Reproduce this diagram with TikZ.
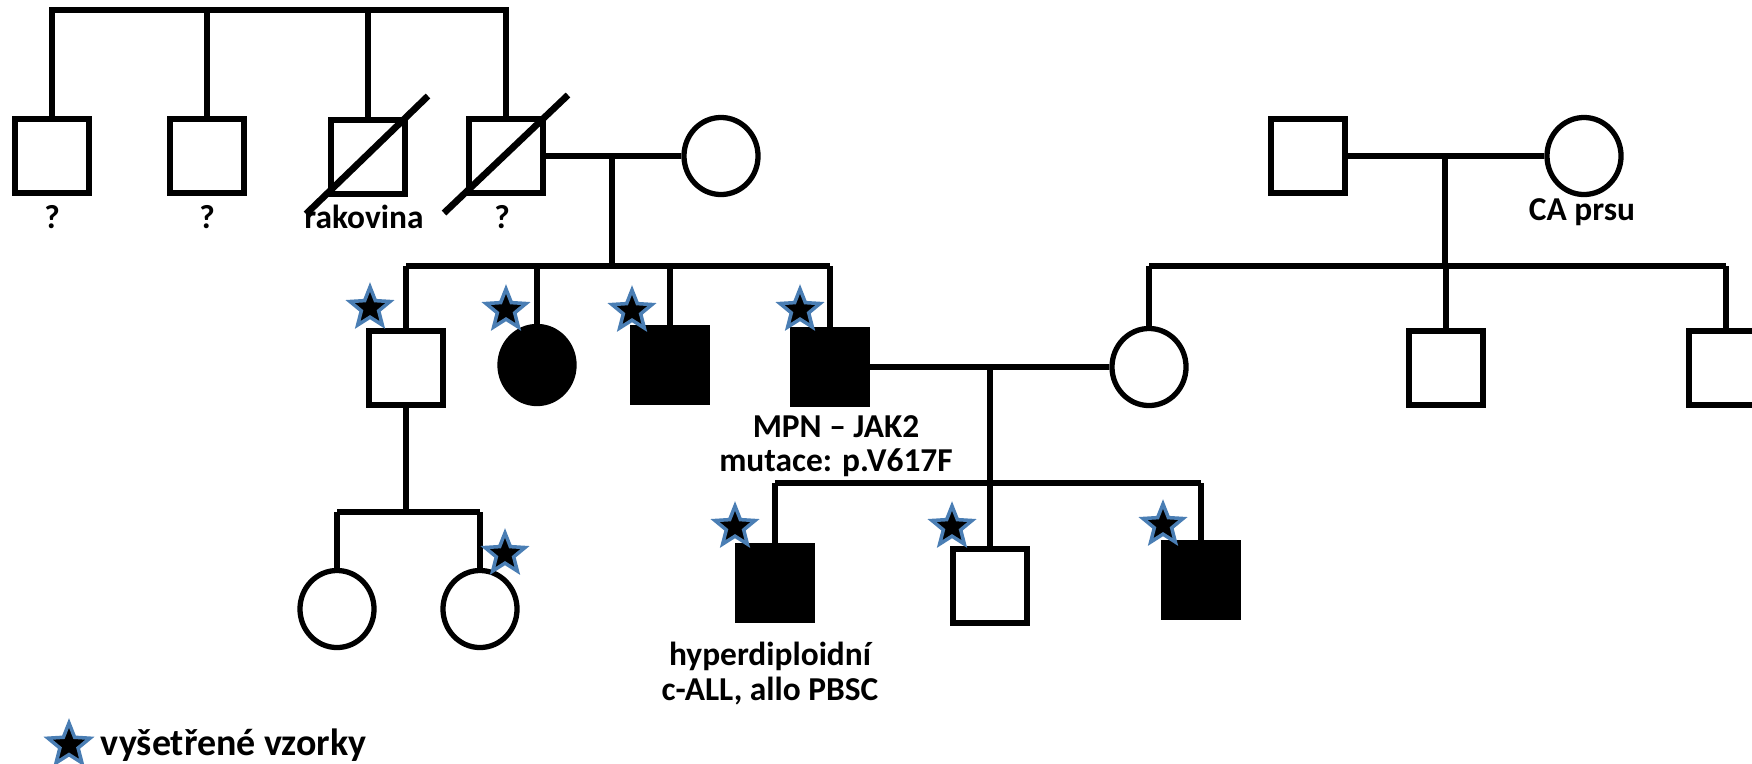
\documentclass[tikz,border=0pt]{standalone}
\usepackage{fontspec}
\setmainfont{Carlito}
\usetikzlibrary{positioning, shapes.geometric, calc}
\definecolor{starblue}{RGB}{74,126,180}

\begin{document}
\begin{tikzpicture}[
    x=0.01cm, y=-0.01cm,
    every node/.style={font=\bfseries\fontsize{9.5}{11.5}\selectfont},
    line/.style  ={line width=1.5pt},
    slash/.style ={line width=1.9pt},
    male/.style  ={draw, line width=1.5pt, minimum size=7.4mm, inner sep=0pt, fill=white},
    female/.style={draw, ellipse, line width=1.5pt, minimum width=7.4mm,
                   minimum height=7.7mm, inner sep=0pt, fill=white},
    sick/.style  ={fill=black},
    tested/.style={star, star points=5, star point ratio=2.3, fill=black, draw=starblue,
                   line width=1pt, minimum size=4.2mm, inner sep=0pt},
]
\useasboundingbox (0,0) rectangle (1752,763);
\clip (0,0) rectangle (1752,763);
% generation I
\node[male]   (g1a) at (52,156)   {};
\node[male]   (g1b) at (207,156)  {};
\node[male]   (g1c) at (368,157)  {};
\node[male]   (g1d) at (506,156)  {};
\node[female] (g1w) at (721,156)  {};
\node[male]   (g1e) at (1308,156) {};
\node[female] (g1f) at (1584,156) {};
\node (la) at (52,217)   {?};
\node (lb) at (207,217)  {?};
\node (lc) at (364,217)  {rakovina};
\node (ld) at (502,217)  {?};
\node (lca) at (1582,212) {CA prsu};
\coordinate (top) at (0,10);
\draw[line] (g1a.north) |- (top -| g1d.north) -- (g1d.north);
\draw[line] (g1b.north) -- (g1b.north |- top);
\draw[line] (g1c.north) -- (g1c.north |- top);
\draw[slash] ($(g1c)+(-62,57)$) -- ($(g1c)+(60,-61)$);
\draw[slash] ($(g1d)+(-62,57)$) -- ($(g1d)+(62,-61)$);
\coordinate (m1) at (612,156);
\coordinate (s1) at (612,266);
\coordinate (m2) at (1445,156);
\coordinate (s2) at (1445,266);
\draw[line] (g1d) -- (g1w);
\draw[line] (g1e) -- (g1f);
\draw[line] (m1) -- (s1);
\draw[line] (m2) -- (s2);
% generation II
\node[male]         (g2a) at (406,368)  {};
\node[female, sick] (g2b) at (537,365)  {};
\node[male, sick]   (g2c) at (670,365)  {};
\node[male, sick]   (g2d) at (830,367)  {};
\node[female]       (g2w) at (1149,367) {};
\node[male]         (g2e) at (1446,368) {};
\node[male]         (g2f) at (1726,368) {};
\draw[line] (g2a.north |- s1) -- (g2d.north |- s1);
\foreach \c in {g2a,g2b,g2c,g2d}
    \draw[line] (\c.north) -- (\c.north |- s1);
\draw[line] (g2w.north |- s2) -- (g2f.north |- s2);
\foreach \c in {g2w,g2e,g2f}
    \draw[line] (\c.north) -- (\c.north |- s2);
\node (lmpn) at (836,427) {MPN – JAK2};
\node (lmut) at (836,463) {mutace: p.V617F};
\coordinate (m3) at (990,367);
\coordinate (s3) at (990,483);
\coordinate (s4) at (406,512);
\draw[line] (g2d) -- (g2w);
\draw[line] (m3) -- (s3);
\draw[line] (g2a.south) -- (s4);
% generation III
\node[male, sick] (g3a) at (775,583)  {};
\node[male]       (g3b) at (990,586)  {};
\node[male, sick] (g3c) at (1201,580) {};
\node[female]     (g3d) at (337,609)  {};
\node[female]     (g3e) at (480,609)  {};
\draw[line] (g3a.north |- s3) -- (g3c.north |- s3);
\foreach \c in {g3a,g3b,g3c}
    \draw[line] (\c.north) -- (\c.north |- s3);
\draw[line] (g3d.north |- s4) -- (g3e.north |- s4);
\foreach \c in {g3d,g3e}
    \draw[line] (\c.north) -- (\c.north |- s4);
\node (lall) at (770,656) {hyperdiploidní};
\node (lpbsc) at (770,691) {c-ALL, allo PBSC};
% tested samples
\node[tested] (t1) at ($(g2a)+(-36,-60)$) {};
\node[tested] (t2) at ($(g2b)+(-31,-55)$) {};
\node[tested] (t3) at ($(g2c)+(-38,-54)$) {};
\node[tested] (t4) at ($(g2d)+(-30,-57)$) {};
\node[tested] (t5) at ($(g3a)+(-40,-56)$) {};
\node[tested] (t6) at ($(g3b)+(-38,-59)$) {};
\node[tested] (t7) at ($(g3c)+(-38,-55)$) {};
\node[tested] (t8) at ($(g3e)+(25,-55)$)  {};
% legend
\node[tested, minimum size=4.4mm] (tl) at (69,745) {};
\node[right=0.4mm of tl, font=\bfseries\fontsize{10.8}{13}\selectfont] (legend) {vyšetřené vzorky};
\end{tikzpicture}
\end{document}
